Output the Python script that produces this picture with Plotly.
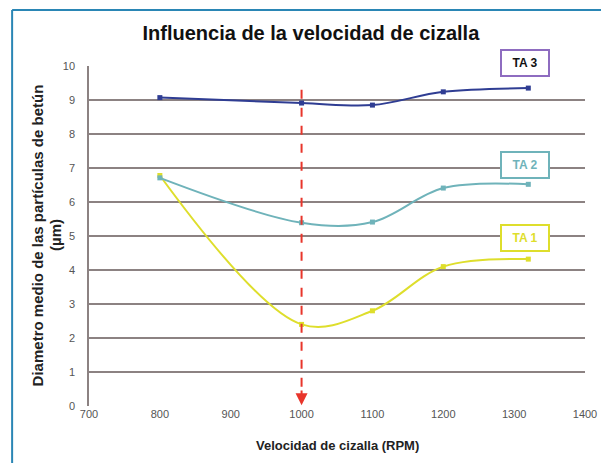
import plotly.graph_objects as go

# ---- data ----
speeds = [800, 1000, 1100, 1200, 1320]
ta1 = [6.78, 2.40, 2.80, 4.10, 4.32]
ta2 = [6.71, 5.39, 5.41, 6.41, 6.52]
ta3 = [9.07, 8.91, 8.85, 9.24, 9.35]
series_names = ["TA 1", "TA 2", "TA 3"]
ref_speed = 1000
x_ticks = [700, 800, 900, 1000, 1100, 1200, 1300, 1400]
y_ticks = list(range(0, 11))

colors = {"TA 1": "#dede2c", "TA 2": "#6fb3ba", "TA 3": "#2f3d93"}
FONT = "Liberation Sans, Arial, sans-serif"

fig = go.Figure()
for name, vals in zip(series_names, [ta1, ta2, ta3]):
    fig.add_trace(go.Scatter(
        x=speeds, y=vals, mode="lines+markers", name=name,
        line=dict(color=colors[name], width=2, shape="spline", smoothing=1),
        marker=dict(symbol="square", size=5, color=colors[name]),
        showlegend=False,
    ))

# dashed reference line with arrow
fig.add_shape(type="line", x0=ref_speed, x1=ref_speed, y0=9.3, y1=0.15,
              xref="x", yref="y", line=dict(color="#e8352b", width=2, dash="dash"))
fig.add_annotation(x=ref_speed, y=0.02, ax=ref_speed, ay=0.5, xref="x", yref="y",
                   axref="x", ayref="y", showarrow=True, arrowhead=2, arrowsize=1.2,
                   arrowwidth=2, arrowcolor="#e8352b", text="")

# series label boxes (positions in axis fractions)
label_pos = {"TA 3": (0.88, 1.008), "TA 2": (0.88, 0.709), "TA 1": (0.88, 0.494)}
text_col = {"TA 3": "#111111", "TA 2": "#6fb3ba", "TA 1": "#dede2c"}
border_col = {"TA 3": "#8e6cc0", "TA 2": "#6fb3ba", "TA 1": "#dede2c"}
for name in series_names:
    lx, ly = label_pos[name]
    fig.add_annotation(x=lx, y=ly, xref="paper", yref="paper", text="<b>" + name + "</b>",
                       xanchor="center", yanchor="middle",
                       showarrow=False, font=dict(family=FONT, size=12, color=text_col[name]),
                       bgcolor="white", bordercolor=border_col[name], borderwidth=2,
                       borderpad=5, width=36)

# axis titles
fig.add_annotation(x=-0.102, y=0.503, xref="paper", yref="paper", textangle=-90,
                   xanchor="center", yanchor="middle",
                   text="<b>Diametro medio de las partículas de betún</b>", showarrow=False,
                   font=dict(family=FONT, size=15, color="#222222"))
fig.add_annotation(x=-0.0665, y=0.503, xref="paper", yref="paper", textangle=-90,
                   xanchor="center", yanchor="middle",
                   text="<b>(µm)</b>", showarrow=False,
                   font=dict(family=FONT, size=15, color="#222222"))
fig.add_annotation(x=0.501, y=-0.115, xref="paper", yref="paper",
                   xanchor="center", yanchor="middle",
                   text="<b>Velocidad de cizalla (RPM)</b>", showarrow=False,
                   font=dict(family=FONT, size=13, color="#222222"))

# outer blue frame (top and left edges)
fig.add_shape(type="line", xref="paper", yref="paper", x0=-0.155, x1=1.2, y0=1.165, y1=1.165,
              line=dict(color="#2a86b5", width=2))
fig.add_shape(type="line", xref="paper", yref="paper", x0=-0.155, x1=-0.155, y0=-0.3, y1=1.165,
              line=dict(color="#2a86b5", width=2))

fig.update_layout(
    width=601, height=455,
    margin=dict(l=81, r=24, t=58, b=57),
    paper_bgcolor="white", plot_bgcolor="white",
    title=dict(text="<b>Influencia de la velocidad de cizalla</b>", x=0.504, xanchor="center",
               y=0.945, yanchor="middle",
               font=dict(family=FONT, size=20, color="#111111")),
    font=dict(family=FONT),
)
fig.update_xaxes(range=[700, 1400], tickvals=x_ticks, showgrid=False, zeroline=False,
                 showline=False, tickfont=dict(size=11, color="#555555"), automargin=False)
fig.update_yaxes(range=[0, 10], tickvals=y_ticks, showgrid=True, gridcolor="#8c8282",
                 gridwidth=1.5, zeroline=False, showline=True, linecolor="#8c8282",
                 linewidth=1.5, tickfont=dict(size=11, color="#555555"),
                 ticklabelstandoff=10, automargin=False)

fig.write_html("out.html")
